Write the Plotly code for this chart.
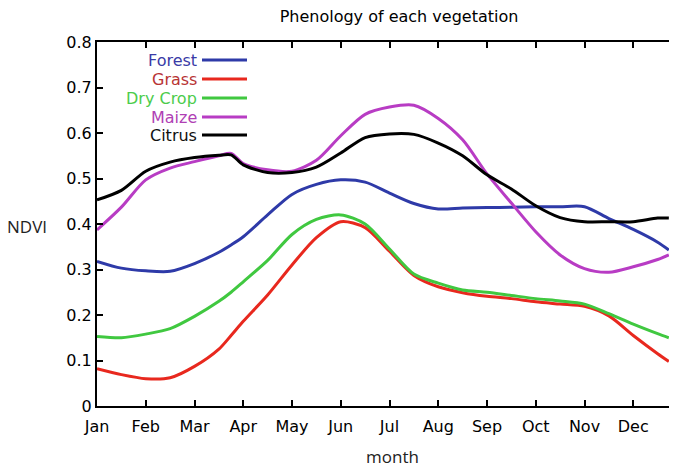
import plotly.graph_objects as go

# ---- data ----
month_labels = ["Jan", "Feb", "Mar", "Apr", "May", "Jun", "Jul", "Aug", "Sep", "Oct", "Nov", "Dec"]
month_pos = [0, 0.5, 1, 1.5, 2, 2.5, 2.75, 3, 3.5, 4, 4.5, 5, 5.5, 6, 6.5, 7, 7.5, 8, 8.5, 9, 9.5, 10, 10.5, 11, 11.5, 11.73]

forest = [0.318, 0.303, 0.297, 0.296, 0.313, 0.338, 0.354, 0.372, 0.420, 0.465, 0.487, 0.497, 0.492, 0.468, 0.445, 0.433, 0.435, 0.436, 0.437, 0.438, 0.438, 0.438, 0.412, 0.388, 0.360, 0.343]
grass = [0.082, 0.069, 0.060, 0.062, 0.087, 0.125, 0.155, 0.186, 0.244, 0.310, 0.370, 0.405, 0.392, 0.340, 0.287, 0.262, 0.249, 0.241, 0.236, 0.229, 0.224, 0.219, 0.198, 0.155, 0.115, 0.098]
dry_crop = [0.153, 0.150, 0.158, 0.170, 0.197, 0.230, 0.250, 0.273, 0.320, 0.377, 0.410, 0.420, 0.400, 0.345, 0.290, 0.270, 0.255, 0.250, 0.243, 0.236, 0.231, 0.224, 0.203, 0.180, 0.159, 0.150]
maize = [0.387, 0.437, 0.497, 0.523, 0.537, 0.550, 0.555, 0.533, 0.519, 0.516, 0.540, 0.594, 0.641, 0.657, 0.661, 0.632, 0.585, 0.510, 0.446, 0.383, 0.332, 0.302, 0.294, 0.306, 0.322, 0.332]
citrus = [0.453, 0.474, 0.516, 0.536, 0.546, 0.551, 0.552, 0.530, 0.513, 0.513, 0.525, 0.556, 0.590, 0.598, 0.597, 0.578, 0.550, 0.508, 0.477, 0.440, 0.414, 0.405, 0.405, 0.405, 0.413, 0.413]

series_names = ["Forest", "Grass", "Dry Crop", "Maize", "Citrus"]
series_values = [forest, grass, dry_crop, maize, citrus]

# ---- style ----
line_colors = ["#2e3aa8", "#e8281e", "#40c840", "#b83cc4", "#000000"]
text_colors = ["#3a3aa6", "#b83434", "#4ccc4c", "#b040b4", "#111111"]

OFF = 8  # page body margin
W, H = 677 - OFF, 468 - OFF
L, R, T, B = 97 - OFF, 0, 42 - OFF, 468 - 406
PW, PH = W - L - R, H - T - B
px_per_month = 48.75


def px(x):
    return (x - OFF - L) / PW


def py(y):
    return (H - B - (y - OFF)) / PH


fig = go.Figure()
for name, vals, col in zip(series_names, series_values, line_colors):
    fig.add_trace(go.Scatter(
        x=month_pos, y=vals, name=name, mode="lines",
        line=dict(color=col, width=3, shape="spline", smoothing=0.8),
        showlegend=False,
    ))

# invisible trace so the right-hand tick marks are drawn
fig.add_trace(go.Scatter(x=[0], y=[0], yaxis="y2", mode="lines",
                         line=dict(width=0), showlegend=False, hoverinfo="skip"))

FONT = "DejaVu Sans, Verdana, sans-serif"
yvals = [0, 0.1, 0.2, 0.3, 0.4, 0.5, 0.6, 0.7, 0.8]

fig.update_layout(
    width=W, height=H,
    margin=dict(l=L, r=R, t=T, b=B, autoexpand=False),
    paper_bgcolor="white", plot_bgcolor="white",
    title=dict(text="Phenology of each vegetation", x=(399 - OFF) / W, xanchor="center",
               y=1 - (16 - OFF) / H, yanchor="middle",
               font=dict(family=FONT, size=16, color="black")),
    xaxis=dict(range=[0, PW / px_per_month], tickvals=list(range(12)), ticktext=month_labels,
               showgrid=False, zeroline=False, showline=True, linecolor="black", linewidth=2,
               mirror="ticks", ticks="inside", ticklen=6, tickwidth=2, tickcolor="black",
               ticklabelstandoff=5,
               tickfont=dict(family=FONT, size=16, color="black")),
    yaxis=dict(range=[0, 0.8], tickvals=yvals, ticktext=["0", "0.1", "0.2", "0.3", "0.4", "0.5", "0.6", "0.7", "0.8"],
               showgrid=False, zeroline=False, showline=True, linecolor="black", linewidth=2,
               ticks="inside", ticklen=6, tickwidth=2, tickcolor="black",
               tickfont=dict(family=FONT, size=16, color="black")),
    yaxis2=dict(range=[0, 0.8], overlaying="y", side="right", showgrid=False, zeroline=False,
                showline=False, tickvals=yvals,
                ticks="inside", ticklen=2, tickwidth=2, tickcolor="#999", showticklabels=False),
)

annotations = [
    dict(text="NDVI", xref="paper", yref="paper", x=px(27), y=py(226), showarrow=False,
         xanchor="center", yanchor="middle",
         font=dict(family="Open Sans, sans-serif", size=17, color="#222")),
    dict(text="month", xref="paper", yref="paper", x=px(392), y=py(456), showarrow=False,
         xanchor="center", yanchor="middle",
         font=dict(family="Open Sans, sans-serif", size=17, color="#222")),
]
shapes = []
legend_y = [60, 79, 98, 117, 135]
for name, tcol, lcol, ly in zip(series_names, text_colors, line_colors, legend_y):
    annotations.append(dict(text=name, xref="paper", yref="paper", x=px(199), y=py(ly),
                            showarrow=False, xanchor="right", yanchor="middle",
                            font=dict(family=FONT, size=16, color=tcol)))
    shapes.append(dict(type="line", xref="paper", yref="paper", x0=px(202), x1=px(247),
                       y0=py(ly), y1=py(ly), line=dict(color=lcol, width=3)))

fig.update_layout(annotations=annotations, shapes=shapes)
fig.write_html("out.html")
